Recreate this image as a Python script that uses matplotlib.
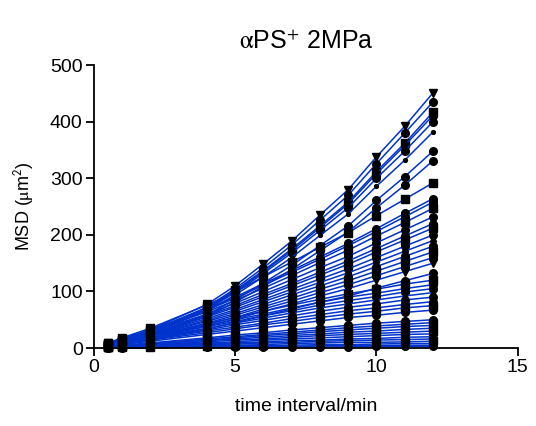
import numpy as np
import matplotlib
matplotlib.use("Agg")
import matplotlib.pyplot as plt

plt.rcParams['font.family'] = ['Liberation Sans', 'DejaVu Sans']
plt.rcParams['mathtext.fontset'] = 'stix'

# time intervals (min)
t = [0.5, 1, 2, 4, 5, 6, 7, 8, 9, 10, 11, 12]

# MSD (um^2) of each tracked cell
msd = [
    [9, 16, 32, 77, 110, 149, 189, 235, 280, 338, 392, 451],
    [8, 15, 30, 72, 105, 142, 182, 226, 270, 326, 380, 435],
    [8, 15, 29, 70, 102, 137, 175, 216, 258, 312, 362, 417],
    [9, 15, 28, 68, 100, 135, 172, 213, 255, 308, 358, 411],
    [8, 14, 28, 68, 98, 132, 168, 208, 248, 300, 348, 400],
    [7, 13, 27, 65, 94, 126, 160, 199, 237, 286, 332, 382],
    [7, 12, 24, 59, 85, 115, 146, 181, 216, 261, 303, 348],
    [6, 12, 23, 56, 81, 109, 139, 172, 205, 248, 288, 331],
    [9, 18, 35, 76, 99, 126, 152, 178, 204, 234, 263, 292],
    [8, 16, 32, 69, 90, 114, 137, 161, 185, 211, 238, 264],
    [8, 15, 31, 67, 88, 111, 134, 157, 181, 206, 232, 258],
    [7, 15, 30, 64, 84, 106, 128, 151, 173, 198, 222, 247],
    [7, 14, 28, 60, 79, 100, 121, 142, 162, 186, 209, 232],
    [7, 13, 26, 57, 75, 95, 114, 134, 154, 176, 198, 220],
    [6, 13, 25, 55, 72, 91, 110, 129, 148, 170, 191, 212],
    [6, 12, 24, 52, 68, 86, 104, 122, 140, 160, 180, 200],
    [6, 11, 23, 49, 65, 82, 99, 116, 133, 152, 171, 190],
    [5, 11, 22, 47, 61, 77, 94, 110, 126, 144, 162, 180],
    [5, 10, 20, 44, 58, 73, 88, 104, 119, 136, 153, 170],
    [5, 10, 19, 42, 54, 69, 83, 98, 112, 128, 144, 160],
    [5, 9, 18, 39, 51, 65, 78, 92, 105, 120, 135, 150],
    [4, 8, 16, 34, 45, 57, 69, 81, 92, 106, 119, 132],
    [6, 11, 22, 43, 54, 65, 76, 86, 96, 104, 113, 120],
    [6, 10, 20, 40, 50, 60, 71, 81, 90, 97, 105, 112],
    [5, 9, 19, 38, 47, 57, 66, 76, 84, 91, 99, 105],
    [5, 9, 18, 35, 44, 53, 62, 71, 78, 85, 92, 98],
    [5, 8, 16, 32, 41, 49, 57, 65, 72, 78, 85, 90],
    [4, 7, 15, 30, 37, 44, 52, 59, 66, 71, 77, 82],
    [4, 7, 14, 27, 34, 41, 47, 54, 60, 65, 71, 75],
    [3, 6, 12, 24, 30, 36, 42, 48, 54, 58, 63, 67],
    [3, 5, 9, 18, 23, 27, 32, 36, 40, 44, 47, 50],
    [2, 4, 8, 16, 20, 24, 28, 32, 36, 39, 42, 45],
    [2, 4, 7, 14, 18, 22, 25, 29, 32, 35, 38, 40],
    [2, 3, 6, 13, 16, 19, 22, 25, 28, 30, 33, 35],
    [2, 3, 5, 11, 14, 16, 19, 22, 24, 26, 28, 30],
    [1, 2, 5, 9, 11, 14, 16, 18, 20, 22, 24, 25],
    [1, 2, 4, 7, 9, 11, 13, 14, 16, 17, 19, 20],
    [1, 1, 3, 6, 7, 9, 10, 12, 13, 14, 15, 16],
    [1, 1, 2, 4, 5, 6, 8, 9, 10, 10, 11, 12],
    [0, 1, 1, 3, 4, 4, 5, 6, 6, 7, 8, 8],
    [0, 0, 1, 2, 2, 3, 3, 4, 4, 4, 5, 5],
    [0, 0, 1, 1, 1, 2, 2, 2, 2, 3, 3, 3],
]

markers = ['v', 'o', 's', 'o', 'o', '.', 'o', 'o', 's', 'o', 'o', 's', 'o', 'o', 's', 'o', 'd', 'o', 's', 'o']

fig = plt.figure(figsize=(5.36, 4.26), dpi=100)
ax = fig.add_axes([0.175, 0.183, 0.791, 0.664])

for i, y in enumerate(msd):
    ax.plot(t, y, color='#0033cc', lw=1.1, marker=markers[i % len(markers)],
            ms=5.5, mfc='black', mec='black', clip_on=False, zorder=2)

ax.set_xlim(0, 15)
ax.set_ylim(0, 500)
ax.set_xticks([0, 5, 10, 15])
ax.set_yticks([0, 100, 200, 300, 400, 500])
for s in ['top', 'right']:
    ax.spines[s].set_visible(False)
for s in ['left', 'bottom']:
    ax.spines[s].set_linewidth(1.3)
ax.tick_params(direction='out', length=6, width=1.3, labelsize=14, pad=2)

ax.set_title(r'$\mathrm{\alpha}$PS$^{\mathsf{+}}$ 2MPa', fontsize=18, pad=12)
ax.set_xlabel('time interval/min', fontsize=14, labelpad=16)
ax.set_ylabel(r'MSD ($\mathrm{\mu}$m$^{\mathsf{2}}$)', fontsize=13, labelpad=10)

plt.savefig('out.png', dpi=100)
